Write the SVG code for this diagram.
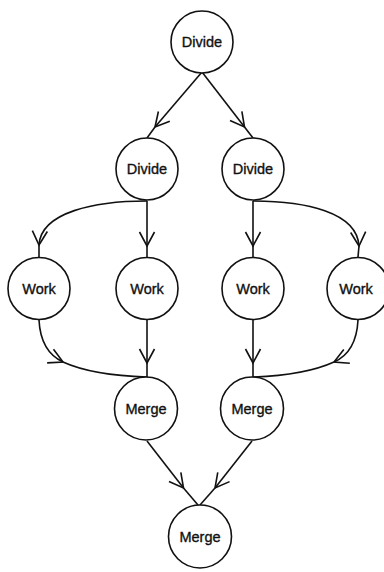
<svg xmlns="http://www.w3.org/2000/svg" width="384" height="572" viewBox="0 0 384 572">
  <defs>
    <!-- open V arrowhead, placed partway along each edge -->
    <marker id="vee" viewBox="-16 -9 18 18" markerWidth="18" markerHeight="18" refX="0" refY="0" orient="auto" markerUnits="userSpaceOnUse">
      <polyline points="-14,-7.5 0,0 -14,7.5" fill="none" stroke="#111" stroke-width="1.6" stroke-linejoin="miter"/>
    </marker>
  </defs>
  <style>
    .node circle { fill: #fff; stroke: #111; stroke-width: 1.6; }
    .node text { font-family: "Liberation Sans", Arial, sans-serif; font-size: 14.5px; fill: #111; stroke: #111; stroke-width: 0.35; text-anchor: middle; }
    .edge { fill: none; stroke: #111; stroke-width: 1.6; }
    .head { marker-end: url(#vee); }
  </style>
  <rect width="384" height="572" fill="#fff"/>

  <g id="connectors">
    <!-- top divide to second-level divides -->
    <path class="edge head" d="M202,72 L155,127"/>
    <path class="edge" d="M155,127 L147,138"/>
    <path class="edge head" d="M202,72 L244.5,127"/>
    <path class="edge" d="M244.5,127 L253,138"/>

    <!-- left divide to work nodes -->
    <path class="edge head" d="M147,201 C95,201 41,212 39,245"/>
    <path class="edge" d="M39,245 L39,257"/>
    <path class="edge head" d="M147,201 L147,246"/>
    <path class="edge" d="M147,246 L147,257"/>

    <!-- right divide to work nodes -->
    <path class="edge head" d="M253,201 L253,246"/>
    <path class="edge" d="M253,246 L253,257"/>
    <path class="edge head" d="M253,201 C305,201 357,212 359,246"/>
    <path class="edge" d="M359,246 L358,257"/>

    <!-- work nodes to left merge -->
    <path class="edge head" d="M39,320 C40,340 48,355 63,362"/>
    <path class="edge" d="M63,362 C85,372 115,376 147,377"/>
    <path class="edge head" d="M147,320 L147,363"/>
    <path class="edge" d="M147,363 L147,377"/>

    <!-- work nodes to right merge -->
    <path class="edge head" d="M253,320 L253,363"/>
    <path class="edge" d="M253,363 L253,377"/>
    <path class="edge head" d="M358,320 C357,340 350,355 334,362"/>
    <path class="edge" d="M334,362 C312,372 282,376 253,377"/>

    <!-- merges to final merge -->
    <path class="edge head" d="M147,441 L183.5,488"/>
    <path class="edge" d="M183.5,488 L198,505"/>
    <path class="edge head" d="M252,441 L215,488"/>
    <path class="edge" d="M215,488 L200,505"/>
  </g>

  <g id="divide-top" class="node"><circle cx="202" cy="42" r="31"/><text x="202" y="47">Divide</text></g>
  <g id="divide-left" class="node"><circle cx="147" cy="169" r="31"/><text x="147" y="174">Divide</text></g>
  <g id="divide-right" class="node"><circle cx="253" cy="169" r="31"/><text x="253" y="174">Divide</text></g>

  <g id="work-1" class="node"><circle cx="39" cy="288.5" r="31"/><text x="39" y="293.5">Work</text></g>
  <g id="work-2" class="node"><circle cx="147" cy="288.5" r="31"/><text x="147" y="293.5">Work</text></g>
  <g id="work-3" class="node"><circle cx="253" cy="288.5" r="31"/><text x="253" y="293.5">Work</text></g>
  <g id="work-4" class="node"><circle cx="358" cy="288.5" r="31"/><text x="356" y="293.5">Work</text></g>

  <g id="merge-left" class="node"><circle cx="146" cy="408.5" r="31.5"/><text x="146" y="413.5">Merge</text></g>
  <g id="merge-right" class="node"><circle cx="252" cy="408.5" r="31.5"/><text x="252" y="413.5">Merge</text></g>
  <g id="merge-final" class="node"><circle cx="200" cy="536.5" r="31.5"/><text x="200" y="541.5">Merge</text></g>
</svg>
